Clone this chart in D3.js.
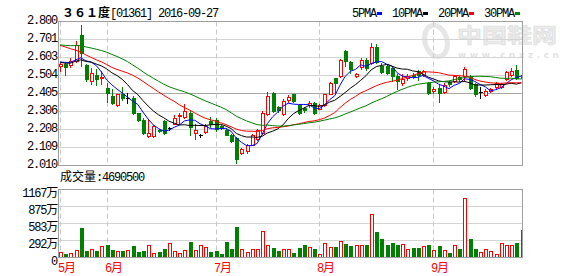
<!DOCTYPE html>
<html><head><meta charset="utf-8">
<script src="https://cdn.jsdelivr.net/npm/d3@7/dist/d3.min.js"></script>
<style>body{margin:0;background:#fff}svg{display:block}</style>
</head><body>
<script>
// ---- data ----
// estimated closes of the 29 sessions before the window (needed for the moving averages)
const priorCloses = [2.62,2.64,2.66,2.65,2.68,2.70,2.69,2.71,2.69,2.71,
  2.74,2.78,2.82,2.85,2.80,2.79,2.75,2.72,2.70,2.67,
  2.62,2.58,2.57,2.55,2.57,2.56,2.59,2.60,2.57];
const opens = [2.555,2.567,2.562,2.586,2.728,2.564,2.476,2.505,2.488,2.437,
  2.393,2.343,2.403,2.383,2.383,2.297,2.262,2.172,2.173,2.207,
  2.255,2.215,2.240,2.280,2.275,2.300,2.190,2.176,2.193,2.255,
  2.262,2.225,2.206,2.178,2.160,2.080,2.090,2.125,2.155,2.190,
  2.290,2.410,2.330,2.290,2.372,2.403,2.340,2.326,2.342,2.352,
  2.322,2.341,2.405,2.490,2.500,2.637,2.578,2.500,2.550,2.590,
  2.574,2.660,2.556,2.555,2.546,2.500,2.463,2.490,2.507,2.528,
  2.508,2.465,2.420,2.436,2.414,2.467,2.476,2.495,2.500,2.495,
  2.455,2.415,2.396,2.420,2.440,2.440,2.487,2.506,2.536,2.490];
const closes = [2.567,2.553,2.586,2.670,2.628,2.485,2.520,2.487,2.495,2.410,
  2.352,2.400,2.383,2.383,2.298,2.262,2.190,2.190,2.225,2.197,
  2.190,2.215,2.270,2.287,2.310,2.220,2.203,2.176,2.226,2.236,
  2.212,2.215,2.180,2.147,2.043,2.100,2.125,2.180,2.205,2.300,
  2.390,2.310,2.312,2.363,2.384,2.365,2.300,2.313,2.354,2.300,
  2.340,2.400,2.460,2.465,2.590,2.582,2.537,2.513,2.590,2.547,
  2.660,2.580,2.525,2.518,2.500,2.473,2.487,2.500,2.500,2.508,
  2.527,2.410,2.428,2.410,2.454,2.455,2.500,2.482,2.538,2.437,
  2.400,2.415,2.421,2.429,2.463,2.455,2.524,2.530,2.490,2.509];
const highs = [2.572,2.572,2.600,2.695,2.780,2.566,2.545,2.540,2.530,2.462,
  2.430,2.405,2.440,2.410,2.390,2.300,2.270,2.265,2.232,2.212,
  2.258,2.222,2.285,2.297,2.350,2.310,2.240,2.185,2.235,2.275,
  2.270,2.230,2.215,2.185,2.165,2.105,2.130,2.185,2.210,2.310,
  2.415,2.412,2.335,2.375,2.395,2.405,2.350,2.330,2.365,2.360,
  2.345,2.405,2.470,2.492,2.595,2.646,2.585,2.520,2.600,2.600,
  2.683,2.675,2.575,2.560,2.555,2.510,2.510,2.510,2.515,2.535,
  2.535,2.470,2.440,2.455,2.460,2.475,2.505,2.500,2.550,2.505,
  2.460,2.440,2.428,2.435,2.470,2.462,2.530,2.545,2.564,2.515];
const lows = [2.530,2.505,2.550,2.580,2.555,2.475,2.455,2.452,2.458,2.356,
  2.345,2.338,2.368,2.352,2.290,2.255,2.185,2.168,2.168,2.192,
  2.183,2.205,2.235,2.240,2.272,2.180,2.155,2.165,2.190,2.220,
  2.200,2.210,2.175,2.140,2.025,2.075,2.080,2.120,2.150,2.185,
  2.288,2.305,2.305,2.288,2.360,2.360,2.290,2.305,2.330,2.290,
  2.318,2.335,2.400,2.410,2.495,2.555,2.520,2.495,2.540,2.535,
  2.565,2.570,2.520,2.510,2.475,2.430,2.450,2.480,2.490,2.480,
  2.500,2.400,2.410,2.360,2.410,2.445,2.470,2.475,2.473,2.430,
  2.390,2.380,2.390,2.415,2.435,2.435,2.480,2.500,2.482,2.485];
// volume in 万 shares
const volumes = [86,57,74,126,503,109,154,109,189,212,
  126,103,109,137,195,92,109,223,69,92,
  154,257,109,69,137,263,137,223,172,92,
  109,57,263,143,520,154,92,154,143,463,
  223,160,109,149,154,74,160,212,172,143,
  57,257,172,177,280,229,195,212,212,212,
  744,441,315,212,246,212,229,143,160,160,
  195,212,126,195,126,74,212,143,1018,315,
  143,92,143,109,57,257,212,212,246,469];
const priceTicks = [2.010,2.109,2.208,2.306,2.405,2.504,2.603,2.701,2.800];
const volTicks = [0,292,583,875,1167];
const monthLabels = ["5月","6月","7月","8月","9月"];
const monthStart = [0,9,30,50,72];
const maPeriods = [5,10,20,30];
const maNames = ["5PMA","10PMA","20PMA","30PMA"];
const maColors = ["#0000ff","#000000","#ff0000","#008000"];
const stockName = "３６１度";
const stockCode = "[01361] 2016-09-27";
const lastVolume = "4690500";
const watermark = ["中国鞋网","www.cnxz.cn"];

// ---- layout ----
const W=578,H=276;
const P={l:58.5,r:522.5,t:21.5,b:165.5};
const V={t:189.5,b:257.5};
const MONO="'Liberation Mono','Noto Sans CJK SC',monospace";
const svg=d3.select("body").append("svg").attr("width",W).attr("height",H);
const defs=svg.append("defs");
defs.append("clipPath").attr("id","cp").append("rect").attr("x",59).attr("y",22).attr("width",463).attr("height",143);
defs.append("clipPath").attr("id","cv").append("rect").attr("x",59).attr("y",190).attr("width",463).attr("height",67);

const n=closes.length;
const x=d3.scaleLinear().domain([0,n-1]).range([60,521.5]);
const y=d3.scaleLinear().domain([2.01,2.80]).range([P.b,P.t]);
const yv=d3.scaleLinear().domain([0,1167]).range([V.b,V.t]);

// watermark
const wm=svg.append("g");
wm.append("ellipse").attr("cx",436).attr("cy",41).attr("rx",11).attr("ry",16)
  .attr("transform","rotate(-15,436,41)").attr("fill","none").attr("stroke","#e6e6e6").attr("stroke-width",5);
wm.append("text").attr("x",457).attr("y",43).attr("font-family","'Noto Sans CJK SC'").attr("font-weight","bold")
  .attr("font-size",20).attr("textLength",100).attr("lengthAdjust","spacingAndGlyphs")
  .attr("fill","#ebebeb").attr("stroke","#dcdcdc").attr("stroke-width",0.6).text(watermark[0]);
wm.append("text").attr("x",458).attr("y",57.5).attr("font-family","'DejaVu Sans'").attr("font-weight","bold")
  .attr("font-size",9).attr("textLength",101).attr("fill","#e3e3e3").text(watermark[1]);

// grid lines
const grid=svg.append("g");
priceTicks.slice(1,-1).forEach(v=>{
  const yy=Math.floor(y(v))+0.5;
  grid.append("line").attr("x1",P.l).attr("x2",P.r).attr("y1",yy).attr("y2",yy)
    .attr("stroke",v===2.405?"#a8a8a8":"#d4d4d4");
});
volTicks.slice(1,-1).forEach(v=>{
  const yy=Math.floor(yv(v))+0.5;
  grid.append("line").attr("x1",P.l).attr("x2",P.r).attr("y1",yy).attr("y2",yy).attr("stroke","#d4d4d4");
});
monthStart.forEach(i=>{
  const xx=Math.round(x(i))+0.5;
  [[P.t,P.b],[V.t,V.b]].forEach(([a,b])=>grid.append("line").attr("x1",xx).attr("x2",xx).attr("y1",a).attr("y2",b)
    .attr("stroke","#c8c8c8").attr("stroke-dasharray","5,3"));
});

// candles
const cg=svg.append("g").attr("clip-path","url(#cp)").attr("shape-rendering","crispEdges");
closes.forEach((c,i)=>{
  const o=opens[i],h=highs[i],l=lows[i];
  const cx=Math.round(x(i));
  const col=c>o?"#ff0000":(c<o?"#008000":"#000000");
  const yt=Math.round(y(Math.max(o,c))),yb=Math.round(y(Math.min(o,c)));
  const yh=Math.round(y(h)),yl=Math.round(y(l));
  if(c>o){
    cg.append("line").attr("x1",cx+0.5).attr("x2",cx+0.5).attr("y1",yh).attr("y2",yt).attr("stroke",col);
    cg.append("line").attr("x1",cx+0.5).attr("x2",cx+0.5).attr("y1",yb+1).attr("y2",yl+1).attr("stroke",col);
    cg.append("rect").attr("x",cx-0.5).attr("y",yt+0.5).attr("width",3).attr("height",Math.max(yb-yt,1))
      .attr("fill","#fff").attr("stroke",col);
  } else if(c<o){
    cg.append("line").attr("x1",cx+0.5).attr("x2",cx+0.5).attr("y1",yh).attr("y2",yl+1).attr("stroke",col);
    cg.append("rect").attr("x",cx-1).attr("y",yt).attr("width",4).attr("height",Math.max(yb-yt,1)+1).attr("fill",col);
  } else {
    cg.append("line").attr("x1",cx+0.5).attr("x2",cx+0.5).attr("y1",yh).attr("y2",yl+1).attr("stroke",col);
    cg.append("line").attr("x1",cx-1).attr("x2",cx+3).attr("y1",yt+0.5).attr("y2",yt+0.5).attr("stroke",col);
  }
});

// moving averages
const all=priorCloses.concat(closes);
const off=priorCloses.length;
maPeriods.forEach((p,j)=>{
  const ma=closes.map((c,i)=>d3.mean(all.slice(off+i-p+1,off+i+1)));
  svg.append("path").attr("clip-path","url(#cp)").datum(ma)
    .attr("d",d3.line().x((d,i)=>x(i)).y(d=>y(d)))
    .attr("fill","none").attr("stroke",maColors[j]).attr("stroke-width",1);
});

// volume bars
const vg=svg.append("g").attr("clip-path","url(#cv)").attr("shape-rendering","crispEdges");
volumes.forEach((v,i)=>{
  const cx=Math.round(x(i));
  const top=Math.round(yv(v));
  const up=closes[i]>=opens[i];
  if(up){
    vg.append("rect").attr("x",cx-0.5).attr("y",top+0.5).attr("width",3).attr("height",257-top)
      .attr("fill","#fff").attr("stroke","#ff0000");
  } else {
    vg.append("rect").attr("x",cx-1).attr("y",top).attr("width",4).attr("height",257-top).attr("fill","#008000");
  }
});

// frames
[[P.t,P.b],[V.t,V.b]].forEach(([a,b])=>svg.append("rect").attr("x",P.l).attr("y",a).attr("width",P.r-P.l).attr("height",b-a)
  .attr("fill","none").attr("stroke","#a0a0a0").attr("shape-rendering","crispEdges"));

// axes
const styleAxis=(g,dy)=>{
  g.select(".domain").remove();
  g.selectAll("line").remove();
  g.selectAll("text").attr("font-family",MONO).attr("font-size",12).attr("letter-spacing","-1.2px")
    .attr("fill","#000").attr("dy",dy);
};
svg.append("g").attr("transform","translate(57,0)")
  .call(d3.axisLeft(y).tickValues(priceTicks).tickFormat(d3.format(".3f")).tickSize(0).tickPadding(0))
  .call(g=>styleAxis(g,"0.2em"));
svg.append("g").attr("transform","translate(57,0)")
  .call(d3.axisLeft(yv).tickValues(volTicks).tickFormat(d=>d===0?"0":d+"万").tickSize(0).tickPadding(0))
  .call(g=>styleAxis(g,"0.55em"));

// month labels
monthLabels.forEach((m,k)=>{
  svg.append("text").attr("x",Math.round(x(monthStart[k]))-2).attr("y",272).attr("font-family",MONO)
    .attr("font-size",12).attr("letter-spacing","-1.2px").attr("fill","#ff0000").text(m);
});

// title
const t=svg.append("text").attr("x",62).attr("y",17).attr("font-size",12);
t.append("tspan").attr("font-family","'Noto Sans CJK SC'").attr("font-weight","bold").text(stockName);
t.append("tspan").attr("font-family",MONO).attr("letter-spacing","-1.2px").text(stockCode);

// legend
let lx=352;
maNames.forEach((nm,j)=>{
  svg.append("text").attr("x",lx).attr("y",17).attr("font-family",MONO).attr("font-size",12)
    .attr("letter-spacing","-1.2px").attr("fill","#000").text(nm);
  const w=nm.length*6;
  svg.append("rect").attr("x",lx+w+1).attr("y",12).attr("width",5).attr("height",3).attr("fill",maColors[j]);
  lx+=w+16;
});

// volume caption
svg.append("text").attr("x",60).attr("y",180.5).attr("font-size",12).attr("font-family",MONO)
  .call(s=>{s.append("tspan").text("成交量");s.append("tspan").attr("letter-spacing","-1.2px").text(":"+lastVolume);});
</script>
</body></html>
